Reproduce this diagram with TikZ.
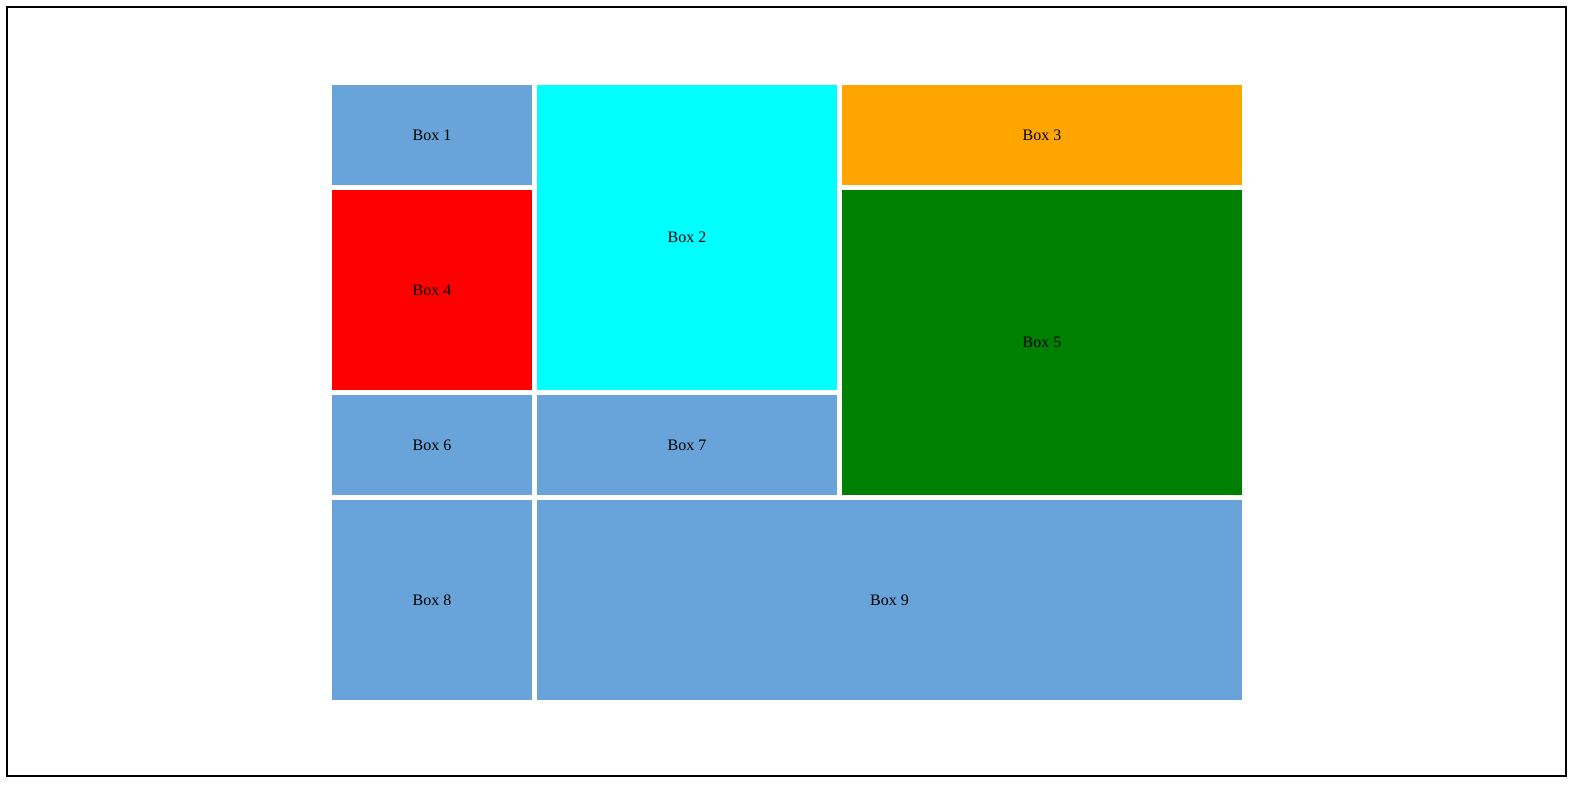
\documentclass[tikz,border=0pt]{standalone}
\usepackage{fontspec}
\setmainfont{Liberation Serif}
\definecolor{boxblue}{RGB}{104,163,217}
\definecolor{boxcyan}{RGB}{0,255,255}
\definecolor{boxorange}{RGB}{255,165,0}
\definecolor{boxred}{RGB}{255,0,0}
\definecolor{boxgreen}{RGB}{0,128,0}
\begin{document}
\begin{tikzpicture}[x=0.75pt,y=-0.75pt,
  cell/.style={inner sep=0pt,outer sep=0pt,draw=none,font=\fontsize{12pt}{14pt}\selectfont,text=black}]
\useasboundingbox (0,0) rectangle (1575,785);
\draw[line width=1.5pt,black] (7,7) rectangle (1566,776);
\node[cell,fill=boxblue,minimum width=150pt,minimum height=75pt] (b1) at (432,135) {Box 1};
\node[cell,fill=boxcyan,minimum width=225pt,minimum height=228.75pt] (b2) at (687,237.5) {Box 2};
\node[cell,fill=boxorange,minimum width=300pt,minimum height=75pt] (b3) at (1042,135) {Box 3};
\node[cell,fill=boxred,minimum width=150pt,minimum height=150pt] (b4) at (432,290) {Box 4};
\node[cell,fill=boxgreen,minimum width=300pt,minimum height=228.75pt] (b5) at (1042,342.5) {Box 5};
\node[cell,fill=boxblue,minimum width=150pt,minimum height=75pt] (b6) at (432,445) {Box 6};
\node[cell,fill=boxblue,minimum width=225pt,minimum height=75pt] (b7) at (687,445) {Box 7};
\node[cell,fill=boxblue,minimum width=150pt,minimum height=150pt] (b8) at (432,600) {Box 8};
\node[cell,fill=boxblue,minimum width=528.75pt,minimum height=150pt] (b9) at (889.5,600) {Box 9};
\end{tikzpicture}
\end{document}
